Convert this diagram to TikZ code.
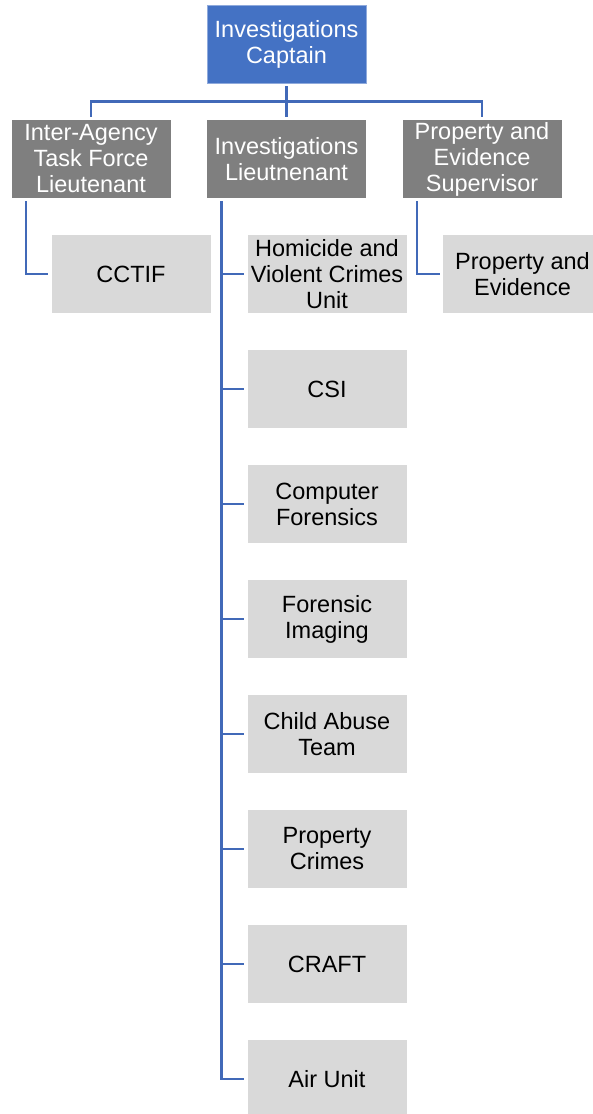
\documentclass[tikz,border=0pt]{standalone}
\usepackage{fontspec}
\setmainfont{Liberation Sans}
\definecolor{capblue}{HTML}{4472C4}
\definecolor{capedge}{HTML}{8FAADC}
\definecolor{midgray}{HTML}{7F7F7F}
\definecolor{lightgray}{HTML}{D9D9D9}
\definecolor{linkblue}{HTML}{4169B8}
\begin{document}
\begin{tikzpicture}[x=1pt,y=-1pt,
  box/.style={minimum width=159pt,minimum height=78pt,inner sep=0pt,align=center,
    font=\fontsize{23.5}{26}\selectfont},
  topbox/.style={box,fill=capblue,draw=capedge,line width=0.8pt,text=white},
  midbox/.style={box,fill=midgray,text=white},
  leafbox/.style={box,fill=lightgray,text=black},
  conn/.style={draw=linkblue,line width=2.6pt}]
\useasboundingbox (0,0) rectangle (592,1114);
\node[topbox] (cap) at (286.5,44) {Investigations\\Captain};
\node[midbox] (l1) at (91,159) {Inter-Agency\\Task Force\\Lieutenant};
\node[midbox] (l2) at (286.5,159) {Investigations\\Lieutnenant};
\node[midbox] (l3) at (482,159) {Property and\\Evidence\\Supervisor};
\node[leafbox] (cctif) at (131,274) {CCTIF};
\node[leafbox] (pe) at (522.5,274) {Property and\\Evidence};
\node[leafbox] (c1) at (327,274) {Homicide and\\Violent Crimes\\Unit};
\node[leafbox] (c2) at (327,389) {CSI};
\node[leafbox] (c3) at (327,504) {Computer\\Forensics};
\node[leafbox] (c4) at (327,619) {Forensic\\Imaging};
\node[leafbox] (c5) at (327,734) {Child Abuse\\Team};
\node[leafbox] (c6) at (327,849) {Property\\Crimes};
\node[leafbox] (c7) at (327,964) {CRAFT};
\node[leafbox] (c8) at (327,1079) {Air Unit};
% top connectors
\coordinate (bar) at ([yshift=-18pt]cap.south);
\draw[conn] ([yshift=-3pt]cap.south) -- ([yshift=3pt]l2.north);
\draw[conn] ([yshift=3pt]l1.north) |- (bar) -| ([yshift=3pt]l3.north);
% left
\coordinate (t1) at ([xshift=14.5pt,yshift=-3pt]l1.south west);
\draw[conn] (t1) |- ([xshift=-3pt]cctif.west);
% right
\coordinate (t3) at ([xshift=14.5pt,yshift=-3pt]l3.south west);
\draw[conn] (t3) |- ([xshift=-3pt]pe.west);
% middle trunk
\coordinate (t2) at ([xshift=14.5pt,yshift=-3pt]l2.south west);
\draw[conn] (t2) |- ([xshift=-3pt]c8.west);
\foreach \c in {c1,c2,c3,c4,c5,c6,c7}{
  \draw[conn] (t2 |- \c.west) -- ([xshift=-3pt]\c.west);
}
\end{tikzpicture}
\end{document}
